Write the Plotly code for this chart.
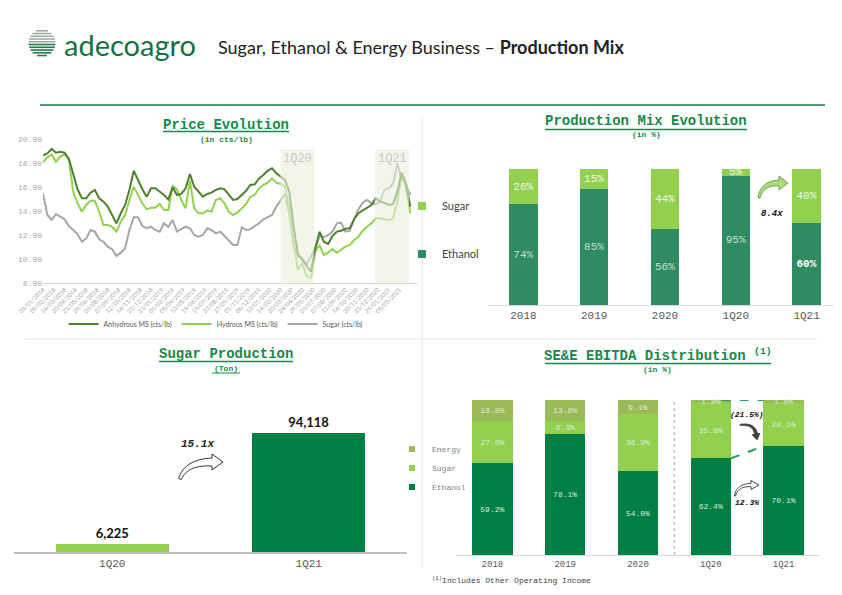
import math
import pandas as pd
import plotly.graph_objects as go

# The page body has an 8px margin: the figure covers page pixels 8..842 x 8..595.
OFF = 8
W, H = 842 - OFF, 595 - OFF


def px(x):
    return (x - OFF) / W


def py(y):
    return 1 - (y - OFF) / H


# ---------------- DATA ----------------
price_start = "2018-01-05"
anhydrous = [18.64, 18.80, 19.17, 18.86, 18.94, 18.86, 18.33, 17.10, 15.81, 15.06,
             15.06, 15.53, 15.75, 15.06, 14.78, 14.36, 13.67, 12.97, 13.81, 14.50,
             15.75, 17.36, 16.58, 15.81, 15.19, 15.89, 15.89, 15.61, 15.33, 14.97,
             15.97, 15.33, 15.42, 15.89, 17.08, 16.03, 15.61, 15.19, 15.42, 15.53,
             15.75, 15.89, 15.81, 15.33, 14.92, 15.00, 15.33, 15.69, 16.17, 16.22,
             16.72, 17.00, 17.36, 17.56, 17.14, 16.86, 16.58, 15.61, 12.69, 10.42,
             9.92, 9.42, 8.94, 10.89, 12.28, 11.44, 11.25, 11.92, 12.28, 12.36,
             12.53, 12.56, 13.31, 13.81, 14.03, 14.22, 14.50, 15.06, 14.78, 14.69,
             14.50, 14.58, 15.61, 17.19, 16.31, 14.36]
hydrous = [18.06, 18.47, 18.72, 18.11, 18.53, 18.72, 18.25, 15.60, 14.64, 13.94,
           14.50, 14.86, 14.86, 13.94, 12.83, 12.83, 12.69, 12.28, 13.11, 13.67,
           14.92, 16.03, 15.33, 14.64, 14.14, 14.28, 14.28, 14.58, 14.08, 14.08,
           16.08, 15.81, 14.92, 14.22, 16.53, 14.22, 13.81, 13.81, 14.03, 13.94,
           14.92, 15.06, 14.64, 13.94, 13.67, 13.86, 14.22, 14.58, 15.19, 15.33,
           15.89, 16.17, 16.36, 16.72, 16.36, 16.25, 16.03, 14.22, 11.31, 9.08,
           9.64, 8.58, 8.39, 10.61, 11.17, 10.33, 10.53, 10.83, 10.53, 10.81,
           11.03, 11.17, 11.58, 11.86, 12.36, 12.69, 12.97, 13.39, 13.39, 13.31,
           13.25, 13.39, 14.78, 17.08, 15.89, 13.81]
sugar_price = [15.47, 13.67, 13.25, 13.75, 13.53, 13.31, 12.75, 12.42, 12.08, 11.44,
               11.72, 12.42, 12.28, 11.64, 11.44, 11.03, 10.81, 10.25, 10.53, 10.89,
               12.42, 13.47, 13.47, 12.75, 12.56, 12.69, 12.42, 12.28, 12.97, 12.69,
               13.25, 12.28, 12.47, 12.69, 12.56, 12.00, 11.86, 12.00, 12.56, 12.42,
               12.14, 12.28, 11.92, 11.58, 11.17, 11.17, 12.64, 12.42, 12.47, 12.75,
               12.97, 13.31, 13.47, 13.67, 14.36, 14.92, 15.42, 13.81, 11.08, 10.25,
               10.06, 9.58, 10.19, 10.89, 11.92, 11.81, 12.00, 12.28, 12.97, 13.03,
               12.28, 12.36, 13.31, 14.14, 14.69, 14.92, 14.64, 14.56, 14.78, 15.75,
               15.89, 16.25, 17.97, 16.64, 16.25, 15.33]
price_dates = pd.date_range(price_start, periods=len(anhydrous), freq="14D")
price_tick_dates = pd.date_range(price_start, periods=34, freq="35D")
price_tick_labels = [d.strftime("%d/%m/%Y") for d in price_tick_dates]
price_y_ticks = [8, 10, 12, 14, 16, 18, 20]
quarter_marks = [("1Q20", "2020-02-13", "2020-06-02"), ("1Q21", "2020-12-16", "2021-04-05")]

mix_periods = ["2018", "2019", "2020", "1Q20", "1Q21"]
mix_ethanol = [74, 85, 56, 95, 60]
mix_sugar = [26, 15, 44, 5, 40]

sugar_prod_periods = ["1Q20", "1Q21"]
sugar_prod_tons = [6225, 94118]

ebitda_periods = ["2018", "2019", "2020", "1Q20", "1Q21"]
ebitda_ethanol = [59.2, 78.1, 54.0, 62.4, 70.1]
ebitda_sugar = [27.0, 8.3, 36.9, 35.8, 28.1]
ebitda_energy = [13.8, 13.6, 9.1, 1.8, 1.8]

# ---------------- STYLE ----------------
MONO = "Liberation Mono"
SANS = "Lato"
TITLE_GREEN = "#17894b"
C_ANH = "#4f8131"
C_HYD = "#92d050"
C_SUG = "#a6a6a6"
C_ETH_MIX = "#2e8b62"
C_DARK = "#007f45"
C_LIGHT = "#92d050"
C_ENERGY = "#9bbb59"

fig = go.Figure()

# ---- Price evolution ----
fig.add_trace(go.Scatter(x=price_dates, y=sugar_price, mode="lines", name="Sugar (cts/lb)",
                         line=dict(color=C_SUG, width=2), xaxis="x", yaxis="y",
                         legend="legend"))
fig.add_trace(go.Scatter(x=price_dates, y=hydrous, mode="lines", name="Hydrous MS (cts/lb)",
                         line=dict(color=C_HYD, width=2), xaxis="x", yaxis="y",
                         legend="legend"))
fig.add_trace(go.Scatter(x=price_dates, y=anhydrous, mode="lines", name="Anhydrous MS (cts/lb)",
                         line=dict(color=C_ANH, width=2), xaxis="x", yaxis="y",
                         legend="legend"))

# ---- Production mix ----
eth_txt = [f"{v}%" for v in mix_ethanol]
eth_txt[-1] = f"<b>{mix_ethanol[-1]}%</b>"
eth_col = ["#c3ded1"] * len(mix_ethanol)
eth_col[-1] = "#ffffff"
fig.add_trace(go.Bar(x=mix_periods, y=mix_ethanol, name="Ethanol", marker_color=C_ETH_MIX,
                     text=eth_txt, textposition="inside", insidetextanchor="middle",
                     constraintext="none", textangle=0, width=0.4,
                     textfont=dict(family=MONO, size=11, color=eth_col),
                     xaxis="x2", yaxis="y2", showlegend=False, hoverinfo="skip"))
fig.add_trace(go.Bar(x=mix_periods, y=mix_sugar, name="Sugar", marker_color=C_LIGHT,
                     text=[f"{v}%" for v in mix_sugar], textposition="inside",
                     insidetextanchor="middle", constraintext="none", textangle=0, width=0.4,
                     textfont=dict(family=MONO, size=11, color="#f1f8e9"), cliponaxis=False,
                     xaxis="x2", yaxis="y2", showlegend=False, hoverinfo="skip"))
# legend entries (square swatches)
fig.add_trace(go.Scatter(x=[None], y=[None], mode="markers", name="Sugar",
                         marker=dict(symbol="square", size=8, color=C_LIGHT),
                         xaxis="x2", yaxis="y2", legend="legend2"))
fig.add_trace(go.Scatter(x=[None], y=[None], mode="markers", name="Ethanol",
                         marker=dict(symbol="square", size=8, color=C_ETH_MIX),
                         xaxis="x2", yaxis="y2", legend="legend3"))

# ---- Sugar production ----
fig.add_trace(go.Bar(x=sugar_prod_periods, y=sugar_prod_tons, marker_color=[C_LIGHT, C_DARK],
                     text=[f"<b>{v:,}</b>" for v in sugar_prod_tons], textposition="outside",
                     textfont=dict(family=SANS, size=13, color="#111111"), width=0.575,
                     cliponaxis=False, showlegend=False, xaxis="x3", yaxis="y3",
                     hoverinfo="skip"))

# ---- EBITDA distribution ----
for vals, nm, col in [(ebitda_ethanol, "Ethanol", C_DARK), (ebitda_sugar, "Sugar", C_LIGHT),
                      (ebitda_energy, "Energy", C_ENERGY)]:
    fig.add_trace(go.Bar(x=ebitda_periods, y=vals, name=nm, marker_color=col,
                         text=[f"{v:.1f}%" for v in vals], textposition="inside",
                         insidetextanchor="middle", constraintext="none", textangle=0,
                         width=0.556, textfont=dict(family=MONO, size=8, color="#dcebdc"),
                         cliponaxis=False,
                         xaxis="x4", yaxis="y4", showlegend=False, hoverinfo="skip"))
for nm, col in [("Ethanol", C_DARK), ("Sugar", C_LIGHT), ("Energy", C_ENERGY)]:
    fig.add_trace(go.Scatter(x=[None], y=[None], mode="markers", name=nm,
                             marker=dict(symbol="square", size=6, color=col),
                             xaxis="x4", yaxis="y4", legend="legend4"))

# ---------------- LAYOUT ----------------
axis_common = dict(showgrid=False, zeroline=False, ticks="", automargin=False)
fig.update_layout(
    template="none",
    width=W, height=H, margin=dict(l=0, r=0, t=0, b=0, pad=0, autoexpand=False),
    paper_bgcolor="white", plot_bgcolor="white", barmode="stack",
    font=dict(family=SANS, color="#404040"),
    xaxis=dict(domain=[px(43), px(418)], type="date", range=[price_start, "2021-05-04"],
               tickvals=price_tick_dates, ticktext=price_tick_labels, tickangle=-45,
               tickfont=dict(family=SANS, size=6, color="#a0a0a0"), showline=True,
               linecolor="#d9d9d9", linewidth=1, anchor="y", **axis_common),
    yaxis=dict(domain=[py(283), py(139)], range=[8, 20], tickvals=price_y_ticks,
               ticktext=[f"{v:.2f}" for v in price_y_ticks], showline=False,
               tickfont=dict(family=MONO, size=8, color="#a6a6a6"), anchor="x",
               **axis_common),
    xaxis2=dict(domain=[px(488), 1.0], type="category", anchor="y2", showline=True,
                linecolor="#d9d9d9", tickfont=dict(family=MONO, size=11, color="#595959"),
                **axis_common),
    yaxis2=dict(domain=[py(305), py(169)], range=[0, 100], visible=False, anchor="x2"),
    xaxis3=dict(domain=[px(14), px(407)], type="category", anchor="y3", showline=True,
                linecolor="#bfbfbf", linewidth=2,
                tickfont=dict(family=MONO, size=11, color="#595959"), **axis_common),
    yaxis3=dict(domain=[py(552), py(382)], range=[0, 134454], visible=False, anchor="x3"),
    xaxis4=dict(domain=[px(456), px(820)], type="category", anchor="y4", showline=True,
                linecolor="#d9d9d9", tickfont=dict(family=MONO, size=9, color="#595959"),
                **axis_common),
    yaxis4=dict(domain=[py(555), py(400)], range=[0, 100], visible=False, anchor="x4"),
    legend=dict(x=px(216), y=py(324), xanchor="center", yanchor="middle", orientation="h",
                traceorder="reversed",
                font=dict(family=SANS, size=7, color="#595959"), bgcolor="rgba(0,0,0,0)"),
    legend2=dict(x=px(402), y=py(206), xanchor="left", yanchor="middle",
                 font=dict(family=SANS, size=11, color="#404040"), bgcolor="rgba(0,0,0,0)"),
    legend3=dict(x=px(402), y=py(254), xanchor="left", yanchor="middle",
                 font=dict(family=SANS, size=11, color="#404040"), bgcolor="rgba(0,0,0,0)"),
    legend4=dict(x=px(392), y=py(468), xanchor="left", yanchor="middle", traceorder="reversed",
                 font=dict(family=MONO, size=8, color="#7f7f7f"), bgcolor="rgba(0,0,0,0)"),
)

shapes = []
annotations = []


def hline(x0, x1, y, color, width=1, dash="solid"):
    shapes.append(dict(type="line", xref="paper", yref="paper", x0=px(x0), x1=px(x1),
                       y0=py(y), y1=py(y), line=dict(color=color, width=width, dash=dash)))


def text(x, y, s, size, color, family=MONO, xanchor="center"):
    annotations.append(dict(x=px(x), y=py(y), xref="paper", yref="paper", text=s,
                            showarrow=False, xanchor=xanchor, yanchor="middle",
                            font=dict(family=family, size=size, color=color)))


# header
hline(40, 825, 105, "#1d7a4c", 1.5)
hline(25, 817, 339, "#e6e6e6", 1)
shapes.append(dict(type="line", xref="paper", yref="paper", x0=px(422), x1=px(422),
                   y0=py(118), y1=py(567), line=dict(color="#e6e6e6", width=1)))
# logo icon: circle with stripes
cx, cy, r = 42, 43, 13.5
for i in range(10):
    dy = -r + 1.3 + i * 2.75
    half = math.sqrt(max(r * r - dy * dy, 0))
    col = "#a3aba3" if i < 5 else "#1d7a4c"
    hline(cx - half, cx + half, cy + dy, col, 1.6)
text(62, 44, "adecoagro", 29, "#17704a", SANS, "left")
text(216, 47, "Sugar, Ethanol &amp; Energy Business – <b>Production Mix</b>", 18, "#222222",
     SANS, "left")

# titles
text(226, 125, "<b>Price Evolution</b>", 14, TITLE_GREEN)
hline(163, 289, 131.5, TITLE_GREEN, 1.5)
text(226, 139, "<b>(in cts/lb)</b>", 8, TITLE_GREEN)
text(646, 121, "<b>Production Mix Evolution</b>", 14, TITLE_GREEN)
hline(545, 747, 129.5, TITLE_GREEN, 1.5)
text(646, 134.5, "<b>(in %)</b>", 8, TITLE_GREEN)
text(226, 354, "<b>Sugar Production</b>", 14, TITLE_GREEN)
hline(159, 293, 361.5, TITLE_GREEN, 1.5)
text(226, 368, "<b>(Ton)</b>", 8, TITLE_GREEN)
hline(212, 240, 373, TITLE_GREEN, 1)
text(658, 355, "<b>SE&amp;E EBITDA Distribution <sup>(1)</sup></b>", 14, TITLE_GREEN)
hline(545, 771, 363.5, TITLE_GREEN, 1.5)
text(657, 369, "<b>(in %)</b>", 8, TITLE_GREEN)

# price chart quarter shading (above lines, translucent)
for lbl, d0, d1 in quarter_marks:
    shapes.append(dict(type="rect", xref="x", yref="y", x0=d0, x1=d1, y0=8, y1=19.17,
                       fillcolor="#e9efdc", opacity=0.6, line=dict(width=0), layer="above"))
text(297, 159, "1Q20", 12, "#c8c8c8")
text(392, 159, "1Q21", 12, "#c8c8c8")

# growth texts
text(772, 214, "<b><i>8.4x</i></b>", 9, "#111111")
text(197, 444, "<b><i>15.1x</i></b>", 11, "#262626")
text(747, 414, "<b><i>(21.5%)</i></b>", 8, "#111111")
text(747, 502, "<b><i>12.3%</i></b>", 8, "#111111")
text(430, 580, "<sup>(1)</sup>Includes Other Operating Income", 8, "#404040", MONO, "left")


def block_arrow(p0, p1, p2, tip, hw, head_hw, fill, line_col, lw=1, n=16):
    left, right = [], []
    for i in range(n + 1):
        t = i / n
        x = (1 - t) ** 2 * p0[0] + 2 * (1 - t) * t * p1[0] + t * t * p2[0]
        y = (1 - t) ** 2 * p0[1] + 2 * (1 - t) * t * p1[1] + t * t * p2[1]
        dx = 2 * (1 - t) * (p1[0] - p0[0]) + 2 * t * (p2[0] - p1[0])
        dy = 2 * (1 - t) * (p1[1] - p0[1]) + 2 * t * (p2[1] - p1[1])
        L = math.hypot(dx, dy) or 1
        nx, ny = -dy / L, dx / L
        w = hw * (0.35 + 0.65 * t)
        left.append((x + nx * w, y + ny * w))
        right.append((x - nx * w, y - ny * w))
    ex, ey = p2[0] - p1[0], p2[1] - p1[1]
    L = math.hypot(ex, ey)
    ex, ey = ex / L, ey / L
    nx, ny = -ey, ex
    head = [(p2[0] + nx * head_hw, p2[1] + ny * head_hw), (p2[0] + ex * tip, p2[1] + ey * tip),
            (p2[0] - nx * head_hw, p2[1] - ny * head_hw)]
    pts = left + head + right[::-1]
    path = "M" + " L".join(f"{px(a):.5f},{py(b):.5f}" for a, b in pts) + " Z"
    shapes.append(dict(type="path", xref="paper", yref="paper", path=path, fillcolor=fill,
                       line=dict(color=line_col, width=lw), layer="above"))


block_arrow((759, 198), (762, 183), (779, 183), 9, 3, 7, "#acd97c", "#5f8f3a", 0.8)
block_arrow((180, 479), (186, 462), (212, 462), 11, 4, 8, "#ffffff", "#333333", 1)
block_arrow((740, 425), (754, 423), (756, 434), 6, 1.6, 4, "#404040", "#404040", 0.8)
block_arrow((735, 496), (737, 485), (751, 485), 8, 1.6, 4.5, "#ffffff", "#333333", 0.9)

# EBITDA connectors (category index coordinates)
shapes.append(dict(type="line", xref="x4", yref="y4", x0=3.15, x1=3.722, y0=100, y1=100,
                   line=dict(color="#2e9a5a", width=2, dash="dash")))
shapes.append(dict(type="line", xref="x4", yref="y4", x0=3.278, x1=3.722,
                   y0=ebitda_ethanol[3], y1=ebitda_ethanol[4],
                   line=dict(color="#2e9a5a", width=2, dash="dash")))
shapes.append(dict(type="line", xref="x4", yref="y4", x0=2.5, x1=2.5, y0=0, y1=106.5,
                   line=dict(color="#bfbfbf", width=1.5, dash="dot")))

fig.update_layout(shapes=shapes, annotations=annotations)
fig.write_html("out.html")
